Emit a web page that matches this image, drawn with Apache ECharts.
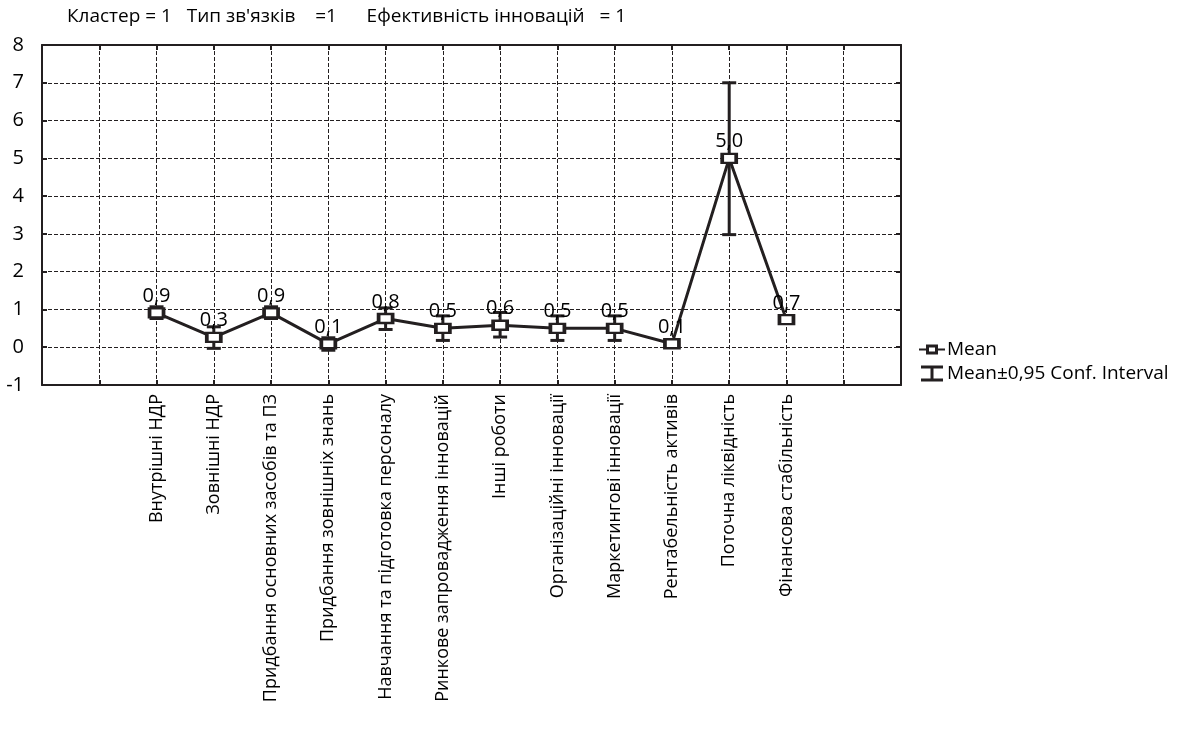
<!DOCTYPE html>
<html>
<head>
<meta charset="utf-8">
<script src="https://cdn.jsdelivr.net/npm/echarts@6/dist/echarts.min.js"></script>
<style>
  html, body { margin: 0; padding: 0; background: #fff; }
  #chart { width: 1179px; height: 733px; }
</style>
</head>
<body>
<div id="chart"></div>
<script>
// показники кластера
const categories = [
  'Внутрішні НДР',
  'Зовнішні НДР',
  'Придбання основних засобів та ПЗ',
  'Придбання зовнішніх знань',
  'Навчання та підготовка персоналу',
  'Ринкове запровадження інновацій',
  'Інші роботи',
  'Організаційні інновації',
  'Маркетингові інновації',
  'Рентабельність активів',
  'Поточна ліквідність',
  'Фінансова стабільність'
];
const means = [0.91, 0.26, 0.91, 0.09, 0.76, 0.50, 0.58, 0.50, 0.50, 0.09, 5.0, 0.73];
const ciLow = [0.76, -0.03, 0.76, -0.08, 0.47, 0.18, 0.27, 0.18, 0.18, null, 2.98, null];
const ciHigh = [1.07, 0.54, 1.07, 0.25, 1.04, 0.83, 0.92, 0.83, 0.83, null, 7.0, null];
const yTicks = [-1, 0, 1, 2, 3, 4, 5, 6, 7, 8];

// два порожні місця з кожного боку осі
const slots = ['', ''].concat(categories, ['', '']);

const ink = '#231f20';
const font = 'Open Sans';

const meanData = categories.map((c, i) => [c, means[i]]);
const ciData = categories.map((c, i) => [c, ciLow[i], ciHigh[i]]);

const chart = echarts.init(document.getElementById('chart'));

function renderCI(params, api) {
  const lo = api.value(1);
  const hi = api.value(2);
  if (lo == null || hi == null || isNaN(lo) || isNaN(hi)) return;
  const top = api.coord([api.value(0), hi]);
  const bot = api.coord([api.value(0), lo]);
  const w = 7;
  const style = { stroke: ink, lineWidth: 3 };
  return {
    type: 'group',
    children: [
      { type: 'line', shape: { x1: top[0], y1: top[1], x2: bot[0], y2: bot[1] }, style: style },
      { type: 'line', shape: { x1: top[0] - w, y1: top[1], x2: top[0] + w, y2: top[1] }, style: style },
      { type: 'line', shape: { x1: bot[0] - w, y1: bot[1], x2: bot[0] + w, y2: bot[1] }, style: style }
    ]
  };
}

const option = {
  animation: false,
  backgroundColor: '#fff',
  title: {
    text: "Кластер = 1   Тип зв'язків    =1      Ефективність інновацій   = 1",
    left: 62,
    top: 2,
    textStyle: { fontFamily: font, fontSize: 19, fontWeight: 'normal', color: '#000' }
  },
  legend: {
    orient: 'vertical',
    left: 914,
    top: 335,
    itemWidth: 26,
    itemHeight: 16,
    itemGap: 5,
    textStyle: { fontFamily: font, fontSize: 19, color: '#000', padding: [0, 0, 0, -3] },
    data: [
      {
        name: 'Mean',
        icon: 'path://M0 7 L7 7 L7 9 L0 9 Z M19 7 L26 7 L26 9 L19 9 Z M7 3 L19 3 L19 13 L7 13 Z M10 6 L10 10 L16 10 L16 6 Z',
        itemStyle: { color: ink, borderWidth: 0 }
      },
      {
        name: 'Mean±0,95 Conf. Interval',
        icon: 'path://M2 0 L24 0 L24 3 L14.5 3 L14.5 13 L24 13 L24 16 L2 16 L2 13 L11.5 13 L11.5 3 L2 3 Z',
        itemStyle: { color: ink, borderWidth: 0 }
      }
    ]
  },
  grid: { left: 42, right: 278, top: 45, bottom: 348 },
  xAxis: [
    {
      type: 'category',
      data: slots,
      boundaryGap: false,
      axisLine: { onZero: false, lineStyle: { color: ink, width: 2 } },
      axisTick: { inside: true, length: 5, interval: 0, lineStyle: { color: ink, width: 2 } },
      axisLabel: { interval: 0, rotate: 90, margin: 9, fontFamily: font, fontSize: 18, color: '#000' },
      splitLine: { show: true, interval: 0, lineStyle: { color: ink, width: 1, type: [4, 2] } }
    },
    {
      type: 'category',
      data: slots,
      position: 'top',
      boundaryGap: false,
      axisLine: { onZero: false, lineStyle: { color: ink, width: 2 } },
      axisTick: { inside: true, length: 5, interval: 0, lineStyle: { color: ink, width: 2 } },
      axisLabel: { show: false },
      splitLine: { show: false }
    }
  ],
  yAxis: [
    {
      type: 'value',
      min: yTicks[0],
      max: yTicks[yTicks.length - 1],
      interval: 1,
      axisLine: { show: true, onZero: false, lineStyle: { color: ink, width: 2 } },
      axisTick: { show: true, inside: true, length: 5, lineStyle: { color: ink, width: 2 } },
      axisLabel: { margin: 18, fontFamily: font, fontSize: 20, color: '#000' },
      splitLine: { show: true, lineStyle: { color: ink, width: 1, type: [4, 2] } }
    },
    {
      type: 'value',
      position: 'right',
      min: yTicks[0],
      max: yTicks[yTicks.length - 1],
      interval: 1,
      axisLine: { show: true, onZero: false, lineStyle: { color: ink, width: 2 } },
      axisTick: { show: true, inside: true, length: 5, lineStyle: { color: ink, width: 2 } },
      axisLabel: { show: false },
      splitLine: { show: false }
    }
  ],
  series: [
    {
      name: 'Mean±0,95 Conf. Interval',
      type: 'custom',
      renderItem: renderCI,
      encode: { x: 0, y: [1, 2] },
      data: ciData,
      z: 2
    },
    {
      name: 'Mean',
      type: 'line',
      data: meanData,
      symbol: 'rect',
      symbolSize: [14, 9],
      showAllSymbol: true,
      lineStyle: { color: ink, width: 3 },
      itemStyle: { color: '#fff', borderColor: ink, borderWidth: 3 },
      label: {
        show: true,
        position: 'top',
        distance: 1,
        fontFamily: font,
        fontSize: 20,
        color: '#000',
        formatter: p => p.value[1].toFixed(1).replace('.', ',')
      },
      z: 3
    }
  ]
};

chart.setOption(option);
window.addEventListener('resize', () => {
  chart.resize();
});
</script>
</body>
</html>
